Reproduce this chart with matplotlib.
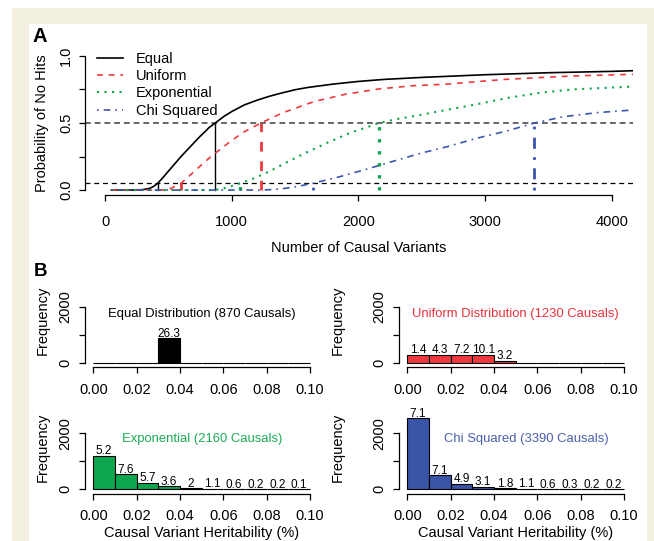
import matplotlib
matplotlib.use("Agg")
import matplotlib.pyplot as plt
from matplotlib.patches import Rectangle
from matplotlib.lines import Line2D

plt.rcParams['font.family'] = ['Liberation Sans', 'DejaVu Sans']

# Panel A: probability of no hits vs number of causal variants
EQUAL_X = [50, 200, 300, 350, 380, 416, 450, 500, 550, 600, 650, 700, 750, 800, 820, 870, 940,
           1000, 1100, 1200, 1300, 1400, 1500, 1600, 1800, 2000, 2200, 2500, 3000, 3500, 4000, 4170]
EQUAL_Y = [0, 0, 0.003, 0.012, 0.025, 0.05, 0.085, 0.14, 0.195, 0.25, 0.30, 0.35, 0.40, 0.445,
           0.465, 0.50, 0.55, 0.585, 0.635, 0.67, 0.70, 0.725, 0.748, 0.765, 0.79, 0.81, 0.825,
           0.84, 0.86, 0.875, 0.885, 0.89]

UNIF_X = [50, 450, 520, 600, 700, 800, 870, 1000, 1100, 1230, 1400, 1650, 1900, 2170, 2430,
          2700, 2930, 3170, 3450, 3700, 3950, 4170]
UNIF_Y = [0, 0, 0.012, 0.05, 0.135, 0.22, 0.275, 0.37, 0.435, 0.50, 0.575, 0.66, 0.715, 0.755,
          0.778, 0.79, 0.808, 0.826, 0.84, 0.851, 0.858, 0.863]

EXPO_X = [50, 850, 920, 1000, 1066, 1184, 1300, 1420, 1590, 1760, 1940, 2120, 2160, 2310, 2500,
          2680, 2930, 3190, 3440, 3700, 3950, 4170]
EXPO_Y = [0, 0, 0.008, 0.03, 0.05, 0.09, 0.14, 0.20, 0.28, 0.355, 0.428, 0.485, 0.50, 0.53,
          0.562, 0.595, 0.639, 0.689, 0.726, 0.751, 0.762, 0.772]

CHI_X = [50, 1250, 1380, 1510, 1640, 1855, 2070, 2280, 2490, 2700, 2930, 3170, 3390, 3620,
         3880, 4170]
CHI_Y = [0, 0, 0.007, 0.025, 0.05, 0.10, 0.157, 0.216, 0.274, 0.323, 0.385, 0.44, 0.50, 0.547,
         0.577, 0.597]

HALF_X = [870, 1230, 2160, 3390]      # where each curve reaches 0.5
FIVE_X = [416, 600, 1066, 1640]       # where each curve reaches 0.05

# Panel B: histograms of causal variant heritability
BIN_LEFT = [0.00, 0.01, 0.02, 0.03, 0.04, 0.05, 0.06, 0.07, 0.08, 0.09]
EQUAL_COUNTS = [0, 0, 0, 870, 0, 0, 0, 0, 0, 0]
UNIF_COUNTS = [288, 287, 288, 289, 78, 0, 0, 0, 0, 0]
EXPO_COUNTS = [1200, 540, 236, 110, 45, 20, 9, 3, 2, 1]
CHI_COUNTS = [2530, 495, 196, 95, 42, 20, 9, 4, 2, 2]

EQUAL_LABELS = [None, None, None, '26.3', None, None, None, None, None, None]
UNIF_LABELS = ['1.4', '4.3', '7.2', '10.1', '3.2', None, None, None, None, None]
EXPO_LABELS = ['5.2', '7.6', '5.7', '3.6', '2', '1.1', '0.6', '0.2', '0.2', '0.1']
CHI_LABELS = ['7.1', '7.1', '4.9', '3.1', '1.8', '1.1', '0.6', '0.3', '0.2', '0.2']

RED = '#ec3a3e'
GREEN = '#0ea64d'
BLUE = '#3a55a8'

W, H = 654, 541
fig = plt.figure(figsize=(W / 100, H / 100), dpi=100, facecolor='white')

# cream page frame around a white panel
fig.add_artist(Rectangle((12 / W, 0), 1, 1 - 8 / H, transform=fig.transFigure,
                         facecolor='#f4f0e1', edgecolor='none', zorder=-10))
fig.add_artist(Rectangle((29 / W, 0), (647 - 29) / W, 1 - 24 / H, transform=fig.transFigure,
                         facecolor='white', edgecolor='none', zorder=-9))


def ax_px(l, t, r, b, xpad):
    ax = fig.add_axes([l / W, 1 - b / H, (r - l) / W, (b - t) / H])
    ax.patch.set_visible(False)
    for s in ['top', 'right']:
        ax.spines[s].set_visible(False)
    for s in ['left', 'bottom']:
        ax.spines[s].set_linewidth(0.9)
    ax.tick_params(direction='out', length=4.3, width=0.9, labelsize=10.5)
    ax.tick_params(axis='x', pad=xpad)
    ax.tick_params(axis='y', pad=4.3)
    return ax


# ---- Panel A ----
ax = ax_px(85, 50.6, 633, 195.4, 9.5)
ax.set_xlim(-158, 4168)
ax.set_ylim(-0.04, 1.04)
ax.spines['left'].set_bounds(0, 1)
ax.spines['bottom'].set_bounds(0, 4000)
ax.set_xticks([0, 1000, 2000, 3000, 4000])
ax.set_yticks([0, 0.25, 0.5, 0.75, 1.0])
ax.set_yticklabels(['0.0', '', '0.5', '', '1.0'], rotation=90, va='center')

ax.axhline(0.5, color='#666666', lw=1.4, ls=(0, (3, 2)), zorder=1)
ax.axhline(0.05, color='black', lw=0.9, ls=(0, (4, 3)), zorder=1)

styles = [
    dict(color='black', ls='-', lw=1.2),
    dict(color=RED, ls=(0, (3.5, 3.5)), lw=1.2),
    dict(color=GREEN, ls=(0, (1, 2.6)), lw=1.5),
    dict(color=BLUE, ls=(0, (1, 3, 4, 3)), lw=1.2),
]
curves = [(EQUAL_X, EQUAL_Y), (UNIF_X, UNIF_Y), (EXPO_X, EXPO_Y), (CHI_X, CHI_Y)]
names = ['Equal', 'Uniform', 'Exponential', 'Chi Squared']
vert_lw = [1.0, 2.0, 2.4, 2.0]

for (xs, ys), st, hx, fx, vlw in zip(curves, styles, HALF_X, FIVE_X, vert_lw):
    ax.plot(xs, ys, zorder=3, **st)
    vst = dict(st, lw=vlw)
    ax.plot([hx, hx], [0, 0.5], zorder=2, **vst)
    ax.plot([fx, fx], [0, 0.05], zorder=2, **vst)

handles = [Line2D([], [], **st) for st in styles]
ax.legend(handles, names, loc='upper left', bbox_to_anchor=(96.7 / W, 1 - 52 / H),
          bbox_transform=fig.transFigure, frameon=False, borderpad=0, borderaxespad=0,
          handlelength=1.83, handletextpad=0.85, labelspacing=0.22, fontsize=10.5)

ax.set_xlabel('Number of Causal Variants', fontsize=10.5)
ax.xaxis.set_label_coords(0.5, (195.4 - 248) / 144.8)
ax.xaxis.label.set_va('center')
ax.set_ylabel('Probability of No Hits', fontsize=10.5)
ax.yaxis.set_label_coords((42 - 85) / 548, 0.5)
ax.yaxis.label.set_va('center')

fig.text(40 / W, 1 - 36 / H, 'A', fontsize=14.5, fontweight='bold', ha='center', va='center')
fig.text(41 / W, 1 - 271 / H, 'B', fontsize=13.5, fontweight='bold', ha='center', va='center')

# ---- Panel B ----
panels = [
    ((84.6, 274.5, 318.7, 366.9), EQUAL_COUNTS, EQUAL_LABELS, 'black',
     'Equal Distribution (870 Causals)', 'black', (201.7, 314.3), 42.5, False),
    ((398.6, 274.5, 632.7, 366.9), UNIF_COUNTS, UNIF_LABELS, RED,
     'Uniform Distribution (1230 Causals)', '#e8333b', (515.5, 314.0), 337.5, False),
    ((84.6, 401.1, 318.7, 493.5), EXPO_COUNTS, EXPO_LABELS, GREEN,
     'Exponential (2160 Causals)', '#1aaa55', (201.7, 439.3), 42.5, True),
    ((398.6, 401.1, 632.7, 493.5), CHI_COUNTS, CHI_LABELS, BLUE,
     'Chi Squared (3390 Causals)', '#4a5fae', (526.0, 439.0), 337.5, True),
]

for box, counts, labels, fc, title, tcol, tpos, ylab_x, bottom_row in panels:
    l, t, r, b = box
    hx = ax_px(l, t, r, b, 7.0)
    hx.set_xlim(-0.004, 0.104)
    hx.set_ylim(-150, 3150)
    hx.spines['left'].set_bounds(0, 2000)
    hx.spines['bottom'].set_bounds(0, 0.1)
    hx.bar(BIN_LEFT, counts, width=0.01, align='edge', color=fc, edgecolor='black', lw=0.8)
    for x0, c, lab in zip(BIN_LEFT, counts, labels):
        if lab:
            hx.annotate(lab, (x0 + 0.005, c), xytext=(0, 1.1), textcoords='offset points',
                        ha='center', va='baseline', fontsize=8.5)
    hx.set_xticks([0, 0.02, 0.04, 0.06, 0.08, 0.10])
    hx.set_xticklabels(['0.00', '0.02', '0.04', '0.06', '0.08', '0.10'])
    hx.set_yticks([0, 1000, 2000])
    hx.set_yticklabels(['0', '', '2000'], rotation=90, va='center')
    hx.set_ylabel('Frequency', fontsize=10.5)
    hx.yaxis.set_label_coords((ylab_x - l) / (r - l), 0.5)
    hx.yaxis.label.set_va('center')
    if bottom_row:
        hx.set_xlabel('Causal Variant Heritability (%)', fontsize=10.5)
        hx.xaxis.set_label_coords(0.5, (b - 533) / (b - t))
        hx.xaxis.label.set_va('center')
    fig.text(tpos[0] / W, 1 - tpos[1] / H, title, color=tcol, fontsize=9.4,
             ha='center', va='center')

fig.savefig('out.png', dpi=100, facecolor=fig.get_facecolor())
